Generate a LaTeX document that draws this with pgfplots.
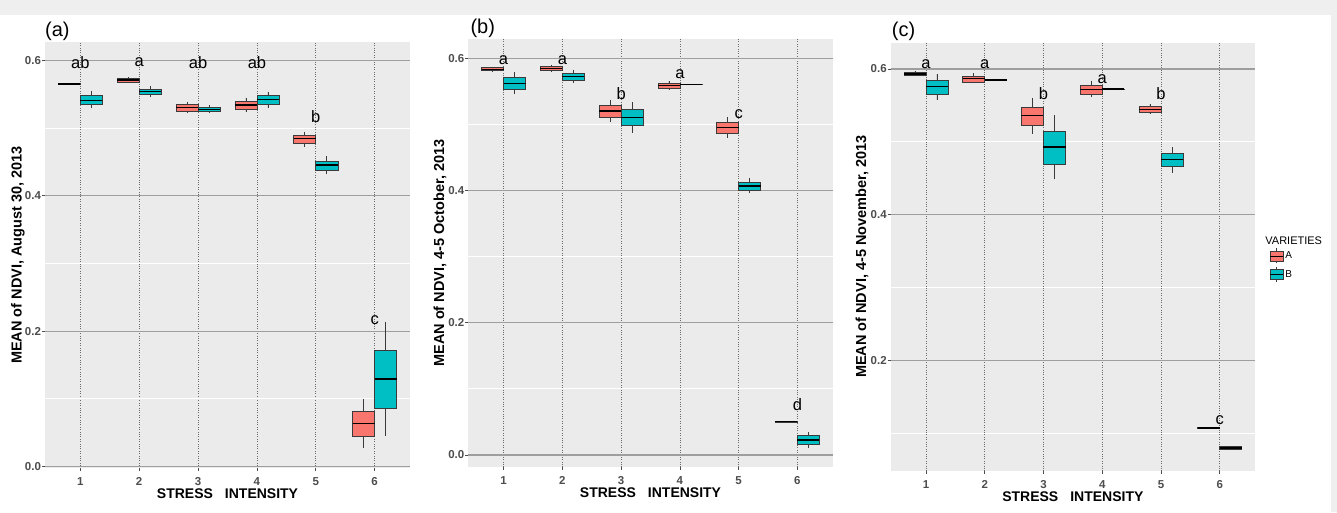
\documentclass[border=0pt]{standalone}
\usepackage{fontspec}
\setmainfont{Liberation Sans}
\usepackage{pgfplots}
\pgfplotsset{compat=1.18}
\usepgfplotslibrary{statistics}
\usetikzlibrary{calc}
\definecolor{cA}{HTML}{F8766D}
\definecolor{cB}{HTML}{00BFC4}
\definecolor{panel}{HTML}{EBEBEB}
\definecolor{band}{HTML}{EFEFEF}
\definecolor{majgrid}{HTML}{9E9E9E}
\definecolor{edge}{HTML}{3A3A3A}
\definecolor{ticktxt}{HTML}{4D4D4D}
\definecolor{dotc}{HTML}{6A6A6A}

\pgfplotsset{
  ggpanel/.style={
    scale only axis,
    anchor=south west,
    xmin=0.4, xmax=6.6,
    xtick={1,2,3,4,5,6},
    ytick={0,0.2,0.4,0.6},
    minor ytick={0.1,0.3,0.5},
    ymajorgrids, yminorgrids, xmajorgrids,
    major y grid style={majgrid, line width=1.3pt},
    minor y grid style={white, line width=0.9pt},
    major x grid style={dotc, dotted, line width=0.7pt},
    axis background/.style={fill=panel},
    axis line style={draw=none},
    tick align=outside,
    major tick length=3pt,
    minor tick length=0pt,
    tick style={ticktxt, line width=0.7pt},
    xtick pos=bottom, ytick pos=left,
    ticklabel style={font=\bfseries\fontsize{11.5}{11.5}\selectfont, text=ticktxt},
    /pgf/number format/assume math mode=true,
    yticklabel style={/pgf/number format/.cd, fixed, fixed zerofill, precision=1, /tikz/.cd, xshift=2.5pt},
    xticklabel style={yshift=-3pt},
    clip=false,
    xlabel={STRESS\hspace{12pt}INTENSITY},
    xlabel style={font=\bfseries\fontsize{14}{14}\selectfont, at={(rel axis cs:0.5,0)}, anchor=center, yshift=-26pt},
    ylabel style={font=\bfseries\fontsize{14.5}{14.5}\selectfont, anchor=center},
    boxplot/draw direction=y,
    boxplot/whisker extend=0,
    boxplot/box extend=0.375,
    boxplot/every box/.style={draw=edge, line width=0.7pt},
    boxplot/every whisker/.style={edge, line width=0.7pt},
    boxplot/every median/.style={black, line width=1.4pt},
  },
}
\tikzset{
  letter/.style={font=\fontsize{16.5}{16.5}\selectfont, inner sep=0pt},
  plabel/.style={anchor=west, font=\fontsize{20}{20}\selectfont, inner sep=0pt},
}
% #1 fill, #2 position, #3 lower whisker, #4 lower quartile, #5 median, #6 upper quartile, #7 upper whisker
\newcommand{\bx}[7]{\addplot[forget plot, fill=#1, boxplot prepared={draw position=#2, lower whisker=#3, lower quartile=#4, median=#5, upper quartile=#6, upper whisker=#7}] coordinates {};}

\begin{document}
\begin{tikzpicture}
\fill[white] (0pt,0pt) rectangle (1337pt,512pt);
\fill[band] (0pt,497pt) rectangle (1337pt,512pt);
\fill[band] (1331pt,0pt) rectangle (1337pt,512pt);
\path[use as bounding box] (0pt,0pt) rectangle (1337pt,512pt);

% ---------------- (a)
\begin{axis}[ggpanel, at={(45pt,44pt)}, width=365pt, height=426pt,
  ymin=-0.002, ymax=0.627,
  ylabel={MEAN of NDVI, August 30, 2013},
  ylabel style={at={($(rel axis cs:0,0.5)+(-27pt,0pt)$)}}]
\bx{cA}{0.8125}{0.564}{0.5645}{0.565}{0.5655}{0.566}
\bx{cB}{1.1875}{0.529}{0.535}{0.541}{0.5475}{0.554}
\bx{cA}{1.8125}{0.5667}{0.5676}{0.5706}{0.5735}{0.5755}
\bx{cB}{2.1875}{0.546}{0.5495}{0.554}{0.557}{0.5618}
\bx{cA}{2.8125}{0.5216}{0.5245}{0.530}{0.535}{0.539}
\bx{cB}{3.1875}{0.5216}{0.524}{0.5275}{0.530}{0.534}
\bx{cA}{3.8125}{0.523}{0.527}{0.534}{0.539}{0.545}
\bx{cB}{4.1875}{0.530}{0.535}{0.5417}{0.5475}{0.5534}
\bx{cA}{4.8125}{0.4725}{0.4775}{0.4843}{0.4887}{0.4946}
\bx{cB}{5.1875}{0.4314}{0.4377}{0.4451}{0.451}{0.4588}
\bx{cA}{5.8125}{0.0275}{0.0446}{0.0637}{0.0814}{0.1005}
\bx{cB}{6.1875}{0.0451}{0.0868}{0.1294}{0.171}{0.2142}
\node[letter] at (axis cs:1,0.597) {ab};
\node[letter] at (axis cs:2,0.597) {a};
\node[letter] at (axis cs:3,0.597) {ab};
\node[letter] at (axis cs:4,0.597) {ab};
\node[letter] at (axis cs:5,0.517) {b};
\node[letter] at (axis cs:6,0.217) {c};
\node[plabel, yshift=11pt] at (rel axis cs:0,1) {(a)};
\end{axis}

% ---------------- (b)
\begin{axis}[ggpanel, at={(468.3pt,45.3pt)}, width=364.4pt, height=427.4pt,
  ymin=-0.0177, ymax=0.6287,
  ylabel={MEAN of NDVI, 4-5 October, 2013},
  ylabel style={at={($(rel axis cs:0,0.5)+(-28.3pt,0pt)$)}}]
\bx{cA}{0.8125}{0.580}{0.581}{0.5834}{0.586}{0.5874}
\bx{cB}{1.1875}{0.5456}{0.5526}{0.5622}{0.5708}{0.580}
\bx{cA}{1.8125}{0.5788}{0.581}{0.5844}{0.588}{0.5904}
\bx{cB}{2.1875}{0.5627}{0.5667}{0.5723}{0.5778}{0.5829}
\bx{cA}{2.8125}{0.5038}{0.5113}{0.520}{0.5285}{0.5365}
\bx{cB}{3.1875}{0.4872}{0.4982}{0.5103}{0.5224}{0.5335}
\bx{cA}{3.8125}{0.5526}{0.5542}{0.5587}{0.5622}{0.5662}
\bx{cB}{4.1875}{0.5603}{0.5605}{0.5607}{0.5609}{0.5611}
\bx{cA}{4.8125}{0.4796}{0.4861}{0.4957}{0.5033}{0.5113}
\bx{cB}{5.1875}{0.3965}{0.4005}{0.4071}{0.4131}{0.4196}
\bx{cA}{5.8125}{0.0489}{0.0493}{0.0504}{0.0514}{0.0519}
\bx{cB}{6.1875}{0.0111}{0.0156}{0.0227}{0.0297}{0.0348}
\node[letter] at (axis cs:1,0.5965) {a};
\node[letter] at (axis cs:2,0.5965) {a};
\node[letter] at (axis cs:3,0.5466) {b};
\node[letter] at (axis cs:4,0.5758) {a};
\node[letter] at (axis cs:5,0.516) {c};
\node[letter] at (axis cs:6,0.0766) {d};
\node[plabel, xshift=2pt, yshift=11pt] at (rel axis cs:0,1) {(b)};
\end{axis}

% ---------------- (c)
\begin{axis}[ggpanel, at={(890.7pt,41.3pt)}, width=364.3pt, height=428pt,
  ymin=0.0484, ymax=0.6361,
  ylabel={MEAN of NDVI, 4-5 November, 2013},
  ylabel style={at={($(rel axis cs:0,0.5)+(-28.7pt,0pt)$)}},
  legend style={at={(rel axis cs:1.031,0.525)}, anchor=north west, draw=none, fill=none,
    font=\fontsize{10}{10}\selectfont, row sep=3pt},
  legend cell align=left]
\bx{cA}{0.8125}{0.590}{0.5918}{0.5931}{0.595}{0.5968}
\bx{cB}{1.1875}{0.5574}{0.5652}{0.5757}{0.584}{0.5931}
\bx{cA}{1.8125}{0.5803}{0.5822}{0.5867}{0.5904}{0.594}
\bx{cB}{2.1875}{0.5845}{0.5847}{0.5849}{0.5851}{0.5853}
\bx{cA}{2.8125}{0.5108}{0.5227}{0.5359}{0.5474}{0.5597}
\bx{cB}{3.1875}{0.4485}{0.4696}{0.4929}{0.514}{0.5364}
\bx{cA}{3.8125}{0.5611}{0.5657}{0.5721}{0.5776}{0.584}
\bx{cB}{4.1875}{0.5721}{0.5723}{0.5725}{0.5727}{0.5729}
\bx{cA}{4.8125}{0.5382}{0.5405}{0.5446}{0.5483}{0.552}
\bx{cB}{5.1875}{0.4577}{0.4659}{0.476}{0.4838}{0.4924}
\bx{cA}{5.8125}{0.1067}{0.1069}{0.1071}{0.1073}{0.1075}
\bx{cB}{6.1875}{0.0774}{0.0778}{0.0796}{0.0815}{0.0818}
\node[letter] at (axis cs:1,0.607) {a};
\node[letter] at (axis cs:2,0.607) {a};
\node[letter] at (axis cs:3,0.5666) {b};
\node[letter] at (axis cs:4,0.586) {a};
\node[letter] at (axis cs:5,0.5666) {b};
\node[letter] at (axis cs:6,0.118) {c};
\node[plabel, xshift=1pt, yshift=11pt] at (rel axis cs:0,1) {(c)};
\node[anchor=west, inner sep=0pt, font=\fontsize{11}{11}\selectfont] at (rel axis cs:1.028,0.537) {VARIETIES};
\addlegendimage{legend image code/.code={
  \draw[fill=cA,draw=edge,line width=0.5pt] (0pt,-5pt) rectangle (13pt,5pt);
  \draw[edge,line width=0.5pt] (6.5pt,-7.5pt)--(6.5pt,-5pt) (6.5pt,5pt)--(6.5pt,7.5pt);
  \draw[black,line width=0.9pt] (0pt,0pt)--(13pt,0pt);}}
\addlegendentry{A}
\addlegendimage{legend image code/.code={
  \draw[fill=cB,draw=edge,line width=0.5pt] (0pt,-5pt) rectangle (13pt,5pt);
  \draw[edge,line width=0.5pt] (6.5pt,-7.5pt)--(6.5pt,-5pt) (6.5pt,5pt)--(6.5pt,7.5pt);
  \draw[black,line width=0.9pt] (0pt,0pt)--(13pt,0pt);}}
\addlegendentry{B}
\end{axis}
\end{tikzpicture}
\end{document}
